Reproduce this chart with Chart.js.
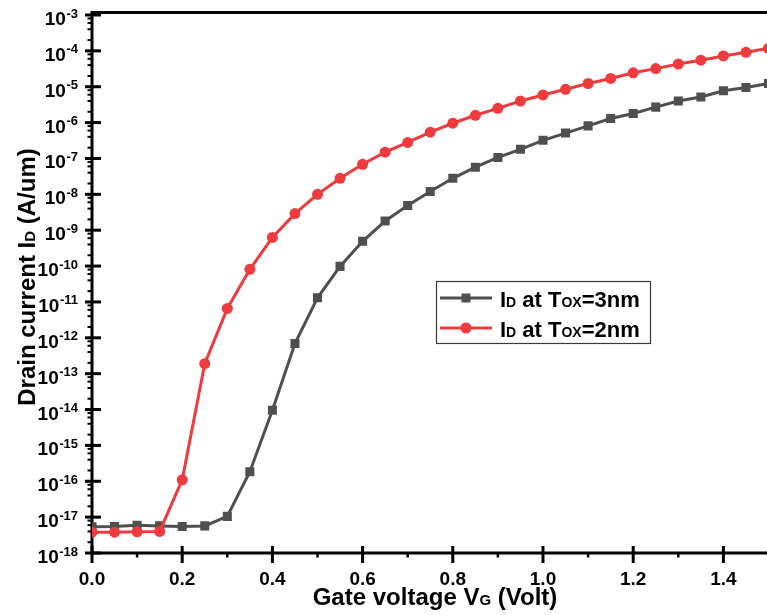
<!DOCTYPE html>
<html>
<head>
<meta charset="utf-8">
<script src="https://cdn.jsdelivr.net/npm/chart.js@4"></script>
<style>
  html, body { margin: 0; padding: 0; background: #fff; overflow: hidden; }
  #wrap { width: 767px; height: 615px; overflow: hidden; }
</style>
</head>
<body>
<div id="wrap"><canvas id="ivChart" width="800" height="615"></canvas></div>
<script>
// gate voltage sweep (V)
const gateVoltage = [0.00, 0.05, 0.10, 0.15, 0.20, 0.25, 0.30, 0.35, 0.40, 0.45,
  0.50, 0.55, 0.60, 0.65, 0.70, 0.75, 0.80, 0.85, 0.90, 0.95,
  1.00, 1.05, 1.10, 1.15, 1.20, 1.25, 1.30, 1.35, 1.40, 1.45, 1.50];

// drain current (A/um), Tox = 3nm
const drainTox3 = [5.4e-18, 5.5e-18, 5.9e-18, 5.7e-18, 5.5e-18, 5.7e-18, 1.05e-17, 1.85e-16, 9.5e-15, 6.9e-13,
  1.3e-11, 9.8e-11, 4.9e-10, 1.8e-9, 4.9e-9, 1.2e-8, 2.8e-8, 5.7e-8, 1.07e-7, 1.8e-7,
  3.2e-7, 5.1e-7, 8.1e-7, 1.3e-6, 1.8e-6, 2.7e-6, 4.0e-6, 5.2e-6, 7.7e-6, 9.5e-6, 1.23e-5];

// drain current (A/um), Tox = 2nm
const drainTox2 = [3.8e-18, 3.8e-18, 3.9e-18, 4.0e-18, 1.1e-16, 1.9e-13, 6.6e-12, 8.1e-11, 6.3e-10, 2.9e-9,
  1.0e-8, 2.8e-8, 6.9e-8, 1.5e-7, 2.8e-7, 5.4e-7, 9.6e-7, 1.6e-6, 2.5e-6, 4.0e-6,
  5.9e-6, 8.5e-6, 1.23e-5, 1.7e-5, 2.45e-5, 3.2e-5, 4.3e-5, 5.5e-5, 7.2e-5, 9.1e-5, 1.18e-4];

const xTickValues = [0.0, 0.2, 0.4, 0.6, 0.8, 1.0, 1.2, 1.4];
const xMinorValues = [0.1, 0.3, 0.5, 0.7, 0.9, 1.1, 1.3, 1.5];
const yTickExponents = [-18, -17, -16, -15, -14, -13, -12, -11, -10, -9, -8, -7, -6, -5, -4, -3];
const yMinorMantissas = [2, 4, 6, 8];

const GRAY = '#4f4f4f';
const RED = '#ef3b3e';
const FONT = '"Liberation Sans", Arial, sans-serif';

function toPoints(ys) {
  return gateVoltage.map((v, i) => ({ x: v, y: ys[i] }));
}

// draws text made of parts of different sizes on one baseline
function richText(ctx, parts, x, y, measureOnly) {
  let w = 0;
  parts.forEach(p => {
    ctx.font = 'bold ' + p[1] + 'px ' + FONT;
    if (!measureOnly) ctx.fillText(p[0], x + w, y);
    w += ctx.measureText(p[0]).width;
  });
  return w;
}

const axesPlugin = {
  id: 'axesPlugin',
  beforeDatasetsDraw(chart) {
    const { ctx, chartArea: a, scales: { x, y } } = chart;
    ctx.save();
    ctx.strokeStyle = '#000';
    ctx.lineCap = 'butt';

    // frame
    ctx.lineWidth = 3;
    ctx.beginPath();
    ctx.moveTo(a.left, a.bottom + 1.5);
    ctx.lineTo(a.left, a.top - 4);
    ctx.moveTo(a.left - 1.5, a.top - 2.5);
    ctx.lineTo(chart.width, a.top - 2.5);
    ctx.moveTo(a.left - 1.5, a.bottom);
    ctx.lineTo(chart.width, a.bottom);
    ctx.stroke();

    // y ticks
    yTickExponents.forEach(k => {
      const py = y.getPixelForValue(Math.pow(10, k));
      ctx.lineWidth = 3;
      ctx.beginPath();
      ctx.moveTo(a.left - 7, py);
      ctx.lineTo(a.left + 9, py);
      ctx.stroke();
      if (k < -3) {
        yMinorMantissas.forEach(m => {
          const my = y.getPixelForValue(m * Math.pow(10, k));
          ctx.lineWidth = 2;
          ctx.beginPath();
          ctx.moveTo(a.left - 4.5, my);
          ctx.lineTo(a.left, my);
          ctx.stroke();
        });
      }
    });

    // x ticks
    xTickValues.forEach(v => {
      const px = x.getPixelForValue(v);
      ctx.lineWidth = 3;
      ctx.beginPath();
      ctx.moveTo(px, a.bottom - 7);
      ctx.lineTo(px, a.bottom + 10);
      ctx.stroke();
    });
    xMinorValues.forEach(v => {
      const px = x.getPixelForValue(v);
      ctx.lineWidth = 2.5;
      ctx.beginPath();
      ctx.moveTo(px, a.bottom);
      ctx.lineTo(px, a.bottom + 4.5);
      ctx.stroke();
    });
    ctx.restore();
  },
  afterDraw(chart) {
    const { ctx, scales: { x, y } } = chart;
    ctx.save();
    ctx.fillStyle = '#000';
    ctx.textBaseline = 'alphabetic';

    // x tick labels
    ctx.font = 'bold 19px ' + FONT;
    ctx.textAlign = 'center';
    xTickValues.forEach(v => {
      ctx.fillText(v.toFixed(1), x.getPixelForValue(v), 585);
    });

    // y tick labels 10^k
    ctx.textAlign = 'left';
    yTickExponents.forEach(k => {
      const py = y.getPixelForValue(Math.pow(10, k));
      ctx.font = 'bold 13px ' + FONT;
      const sup = String(k);
      const ws = ctx.measureText(sup).width;
      ctx.fillText(sup, 78 - ws, py + 2.5);
      ctx.font = 'bold 19px ' + FONT;
      const wb = ctx.measureText('10').width;
      ctx.fillText('10', 78 - ws - wb - 0.5, py + 10);
    });

    // axis titles
    const xTitle = [['Gate voltage V', 24], ['G', 15], [' (Volt)', 24]];
    const wx = richText(ctx, xTitle, 0, 0, true);
    richText(ctx, xTitle, 435 - wx / 2, 605);

    const yTitle = [['Drain current I', 24], ['D', 15], [' (A/um)', 24]];
    const wy = richText(ctx, yTitle, 0, 0, true);
    ctx.save();
    ctx.translate(35, 277);
    ctx.rotate(-Math.PI / 2);
    richText(ctx, yTitle, -wy / 2, 0);
    ctx.restore();

    // legend
    ctx.lineWidth = 1.2;
    ctx.strokeStyle = '#3a3a3a';
    ctx.strokeRect(436.5, 281.5, 214, 62);
    const rows = [
      { y: 298, color: GRAY, square: true, parts: [['I', 22], ['D', 14], [' at T', 22], ['OX', 14], ['=3nm', 22]] },
      { y: 328, color: RED, square: false, parts: [['I', 22], ['D', 14], [' at T', 22], ['OX', 14], ['=2nm', 22]] }
    ];
    rows.forEach(r => {
      ctx.strokeStyle = r.color;
      ctx.fillStyle = r.color;
      ctx.lineWidth = 3;
      ctx.beginPath();
      ctx.moveTo(440, r.y);
      ctx.lineTo(492, r.y);
      ctx.stroke();
      ctx.beginPath();
      if (r.square) ctx.rect(461.5, r.y - 4.5, 9, 9);
      else ctx.arc(466, r.y, 5.5, 0, Math.PI * 2);
      ctx.fill();
      ctx.fillStyle = '#000';
      richText(ctx, r.parts, 500, r.y + 8.7);
    });
    ctx.restore();
  }
};

new Chart(document.getElementById('ivChart'), {
  type: 'line',
  data: {
    datasets: [{
      label: 'ID at TOX=3nm',
      data: toPoints(drainTox3),
      borderColor: GRAY,
      backgroundColor: GRAY,
      borderWidth: 3,
      pointStyle: 'rect',
      pointRadius: 6.4,
      pointBorderWidth: 0,
      tension: 0,
      order: 2
    }, {
      label: 'ID at TOX=2nm',
      data: toPoints(drainTox2),
      borderColor: RED,
      backgroundColor: RED,
      borderWidth: 3,
      pointStyle: 'circle',
      pointRadius: 5.5,
      pointBorderWidth: 0,
      tension: 0,
      order: 1
    }]
  },
  options: {
    responsive: false,
    animation: false,
    events: [],
    layout: { padding: { left: 0, top: 15, right: 31.5, bottom: 0 } },
    plugins: { legend: { display: false }, tooltip: { enabled: false } },
    scales: {
      x: {
        type: 'linear',
        min: 0,
        max: 1.5,
        grid: { display: false },
        border: { display: false },
        ticks: { display: false },
        afterFit(scale) { scale.height = 62; }
      },
      y: {
        type: 'logarithmic',
        min: 1e-18,
        max: 1e-3,
        grid: { display: false },
        border: { display: false },
        ticks: { display: false },
        afterFit(scale) { scale.width = 92; }
      }
    }
  },
  plugins: [axesPlugin]
});
</script>
</body>
</html>
